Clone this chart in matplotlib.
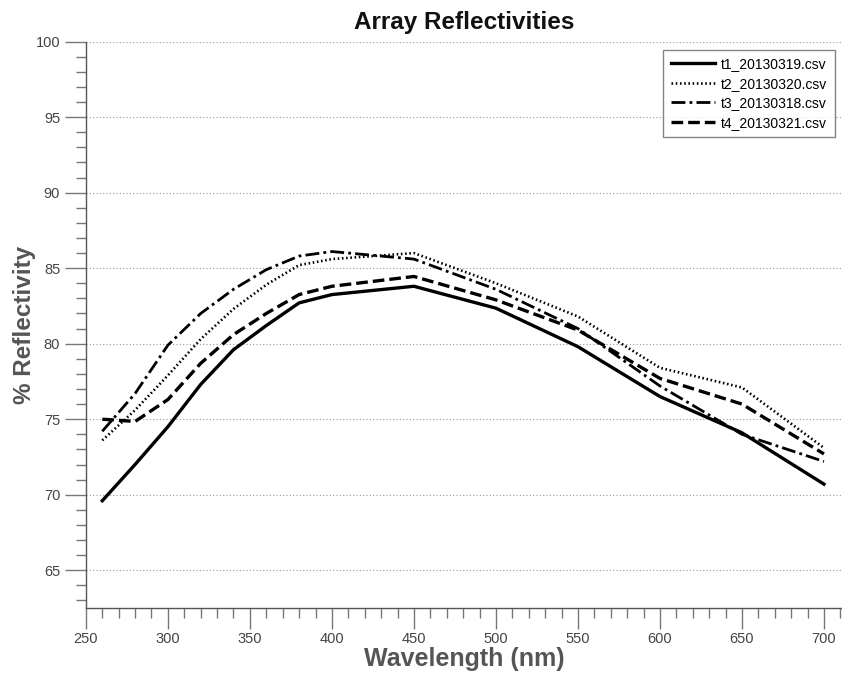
import matplotlib
matplotlib.use("Agg")
import matplotlib.pyplot as plt
from matplotlib.ticker import MultipleLocator

wavelength = [260, 280, 300, 320, 340, 360, 380, 400, 450, 500, 550, 600, 650, 700]
t1 = [69.6, 72.0, 74.5, 77.3, 79.6, 81.2, 82.7, 83.25, 83.8, 82.35, 79.8, 76.5, 74.1, 70.7]
t2 = [73.6, 75.6, 77.9, 80.3, 82.3, 83.9, 85.2, 85.6, 86.0, 84.0, 81.8, 78.4, 77.1, 73.1]
t3 = [74.2, 76.7, 79.9, 82.0, 83.6, 84.9, 85.8, 86.1, 85.6, 83.6, 81.0, 77.2, 74.0, 72.2]
t4 = [75.0, 74.85, 76.3, 78.7, 80.6, 82.0, 83.25, 83.8, 84.45, 82.9, 80.9, 77.7, 76.0, 72.7]
labels = ["t1_20130319.csv", "t2_20130320.csv", "t3_20130318.csv", "t4_20130321.csv"]

plt.rcParams['font.family'] = ['Liberation Sans', 'DejaVu Sans']

fig = plt.figure(figsize=(8.42, 6.73), dpi=100)
ax = fig.add_axes([0.102, 0.0966, 0.898, 0.8416])

ax.plot(wavelength, t1, color="black", lw=2.4, ls="-", label=labels[0])
ax.plot(wavelength, t2, color="black", lw=1.9, ls=(0, (0.6, 1.0)), label=labels[1])
ax.plot(wavelength, t3, color="black", lw=2.0, ls=(0, (5, 1.5, 1, 1.5)), label=labels[2])
ax.plot(wavelength, t4, color="black", lw=2.4, ls=(0, (3.5, 1.5)), label=labels[3])

ax.set_xlim(250, 711)
ax.set_ylim(62.5, 100)
ax.xaxis.set_major_locator(MultipleLocator(50))
ax.xaxis.set_minor_locator(MultipleLocator(10))
ax.yaxis.set_major_locator(MultipleLocator(5))
ax.yaxis.set_minor_locator(MultipleLocator(1))

for s in ("top", "right"):
    ax.spines[s].set_visible(False)
for s in ("left", "bottom"):
    ax.spines[s].set_color("#555555")
    ax.spines[s].set_linewidth(1.0)

ax.tick_params(which="major", direction="out", length=15, width=1, color="#777777",
               labelcolor="#444444", labelsize=10.5)
ax.tick_params(which="minor", direction="out", length=7, width=1, color="#777777")
ax.tick_params(axis="x", which="major", pad=2)

ax.yaxis.grid(True, which="major", ls=(0, (1, 2)), color="#999999", lw=0.8)
ax.set_axisbelow(True)

ax.set_title("Array Reflectivities", fontsize=17.5, fontweight="bold", color="#111111", pad=9)
ax.set_xlabel("Wavelength (nm)", fontsize=18, fontweight="bold", color="#555555", labelpad=1)
ax.set_ylabel("% Reflectivity", fontsize=17.5, fontweight="bold", color="#555555", labelpad=0)

leg = ax.legend(loc="upper right", bbox_to_anchor=(0.991, 0.986), fontsize=10,
                frameon=True, fancybox=False, edgecolor="#666666", handlelength=3.2,
                borderpad=0.55, labelspacing=0.4, handletextpad=0.45, borderaxespad=0)
leg.get_frame().set_linewidth(1.0)

fig.savefig("out.png", dpi=100)
